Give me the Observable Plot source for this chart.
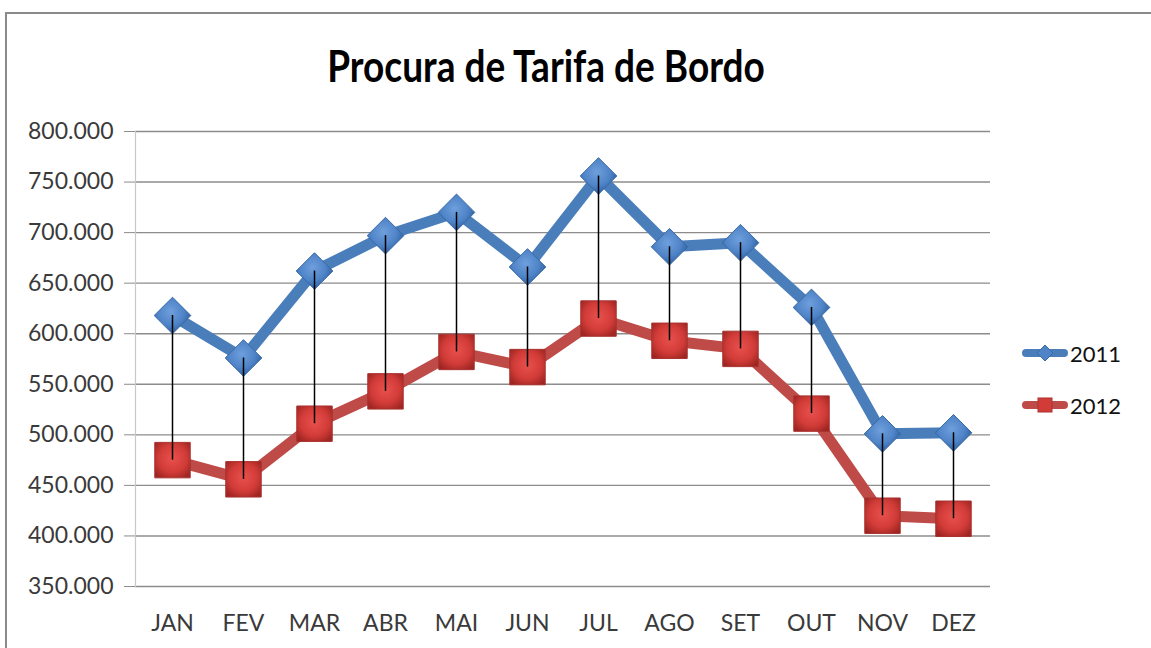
<!DOCTYPE html>
<html><head><meta charset="utf-8">
<script src="https://cdn.jsdelivr.net/npm/d3@7"></script>
<script src="https://cdn.jsdelivr.net/npm/@observablehq/plot@0.6"></script>
<style>
html{overflow:hidden;}
html,body{margin:0;padding:0;background:#fff;}
body{width:1151px;height:648px;overflow:hidden;position:relative;font-family:Lato,"Open Sans",sans-serif;}
#frameTop{position:absolute;left:5px;top:12px;width:1146px;height:2px;background:#8a8a8a;}
#frameLeft{position:absolute;left:5px;top:12px;width:2px;height:636px;background:#8a8a8a;}
#title{position:absolute;left:0;width:1092px;top:42px;text-align:center;font-weight:bold;font-size:37px;color:#000;line-height:1;transform:scaleY(1.2);transform-origin:50% 0;}
#chart{position:absolute;left:0;top:100px;}
#legend{position:absolute;left:1022px;top:327px;font-size:22px;color:#111;}
#legend div{display:flex;align-items:center;height:52px;}
#legend svg{margin-right:2px;}
</style>
</head><body>
<div id="frameTop"></div>
<div id="frameLeft"></div>
<div id="title">Procura de Tarifa de Bordo</div>
<div id="chart"></div>
<div id="legend"></div>
<script>
const months = ["JAN","FEV","MAR","ABR","MAI","JUN","JUL","AGO","SET","OUT","NOV","DEZ"];
const series = ["2011","2012"];
const v2011 = [618000,576000,662000,697000,720000,666000,756000,686000,690000,626000,501000,502000];
const v2012 = [475000,456000,511000,543000,582000,567000,615000,593000,585000,521000,420000,417000];
const yTicks = [350000,400000,450000,500000,550000,600000,650000,700000,750000,800000];
const colors = {"2011":"#4a7ebb","2012":"#be4b48"};

const data = months.map((m,i)=>({month:m, y2011:v2011[i], y2012:v2012[i]}));
const ptBR = d3.formatLocale({decimal:",", thousands:".", grouping:[3], currency:["",""]});
const fmt = ptBR.format(",d");

const chart = Plot.plot({
  width: 1000, height: 536,
  marginLeft: 135, marginRight: 10, marginTop: 31, marginBottom: 50,
  style: {fontFamily: "Lato, 'Open Sans', sans-serif", fontSize: "23px", color: "#3a3a3a", background: "transparent"},
  x: {type: "point", domain: months, padding: 0.5},
  y: {domain: [350000, 800000]},
  marks: [
    Plot.gridY(yTicks, {stroke: "#8c8c8c", strokeOpacity: 1, strokeWidth: 1.4}),
    Plot.frame({anchor: "left", stroke: "#c8c8c8", strokeWidth: 1.2}),
    Plot.axisY({ticks: yTicks, tickFormat: fmt, tickSize: 11, tickPadding: 11, stroke: "#8c8c8c", fill: "#3a3a3a", label: null}),
    Plot.axisX({tickSize: 0, tickPadding: 28, fill: "#3a3a3a", label: null}),
    Plot.line(data, {x: "month", y: "y2011", stroke: colors["2011"], strokeWidth: 11, strokeLinejoin: "round", strokeLinecap: "round"}),
    Plot.line(data, {x: "month", y: "y2012", stroke: colors["2012"], strokeWidth: 11, strokeLinejoin: "round", strokeLinecap: "round"}),
    Plot.dot(data, {x: "month", y: "y2011", symbol: "diamond2", r: 16.5, fill: "url(#gBlue)", stroke: "#3a6aa5", strokeWidth: 1}),
    Plot.dot(data, {x: "month", y: "y2012", symbol: "square", r: 20, fill: "url(#gRed)", stroke: "#a8322f", strokeWidth: 1}),
    Plot.ruleX(data, {x: "month", y1: "y2011", y2: "y2012", stroke: "#000", strokeWidth: 1.5})
  ]
});

const defs = d3.select(chart).insert("defs", ":first-child");
const gb = defs.append("radialGradient").attr("id","gBlue").attr("cx","45%").attr("cy","40%").attr("r","60%");
gb.append("stop").attr("offset","0%").attr("stop-color","#6f9fdc");
gb.append("stop").attr("offset","60%").attr("stop-color","#4f84c8");
gb.append("stop").attr("offset","100%").attr("stop-color","#2f5f9e");
const gr = defs.append("radialGradient").attr("id","gRed").attr("cx","50%").attr("cy","45%").attr("r","65%");
gr.append("stop").attr("offset","0%").attr("stop-color","#e8504c");
gr.append("stop").attr("offset","60%").attr("stop-color","#d23c38");
gr.append("stop").attr("offset","100%").attr("stop-color","#9e2522");
document.getElementById("chart").appendChild(chart);

// legend
const leg = d3.select("#legend");
series.forEach(s => {
  const row = leg.append("div");
  const sv = row.append("svg").attr("width", 46).attr("height", 20);
  sv.append("line").attr("x1",4).attr("x2",42).attr("y1",10).attr("y2",10)
    .attr("stroke", colors[s]).attr("stroke-width",8).attr("stroke-linecap","round");
  if (s === "2011") {
    sv.append("path").attr("d","M23,2 L31,10 L23,18 L15,10 Z").attr("fill","#4f84c8").attr("stroke","#3a6aa5");
  } else {
    sv.append("rect").attr("x",16).attr("y",3).attr("width",14).attr("height",14).attr("fill","#d23c38").attr("stroke","#a8322f");
  }
  row.append("span").text(s);
});
</script>
</body></html>
